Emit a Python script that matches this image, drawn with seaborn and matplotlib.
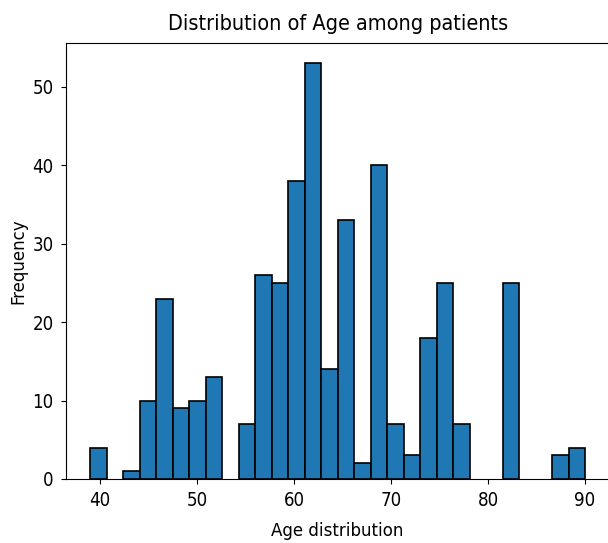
import numpy as np
import pandas as pd
import seaborn as sns
import matplotlib
matplotlib.use('Agg')
import matplotlib.pyplot as plt

# Histogram: 30 bins between 39 and 90
age_min = 39
age_max = 90
n_bins = 30
counts = [4, 0, 1, 10, 23, 9, 10, 13, 0, 7,
          26, 25, 38, 53, 14, 33, 2, 40, 7, 3,
          18, 25, 7, 0, 0, 25, 0, 0, 3, 4]

edges = np.linspace(age_min, age_max, n_bins + 1)
centers = (edges[:-1] + edges[1:]) / 2
df = pd.DataFrame({'age': centers, 'count': counts})

plt.rcParams['font.family'] = ['DejaVu Sans']
plt.rcParams['font.stretch'] = 'condensed'

fig = plt.figure(figsize=(6.08, 5.43), dpi=100)
ax = fig.add_axes([65.5 / 608, 1 - 479 / 543, (609.8 - 65.5) / 608, (479 - 42.7) / 543])

sns.histplot(data=df, x='age', weights='count', bins=n_bins, binrange=(age_min, age_max),
             color='#1f77b4', alpha=1, edgecolor='black', linewidth=1.2, ax=ax)

# empty bins show nothing in the reference
for p in ax.patches:
    if p.get_height() == 0:
        p.set_linewidth(0)

ax.set_title('Distribution of Age among patients', fontsize=15.5, pad=9)
ax.set_xlabel('Age distribution', fontsize=13.3, labelpad=9)
ax.set_ylabel('Frequency', fontsize=13.3, labelpad=4)
ax.tick_params(labelsize=13.4, pad=5)

plt.savefig('out.png', dpi=100)
